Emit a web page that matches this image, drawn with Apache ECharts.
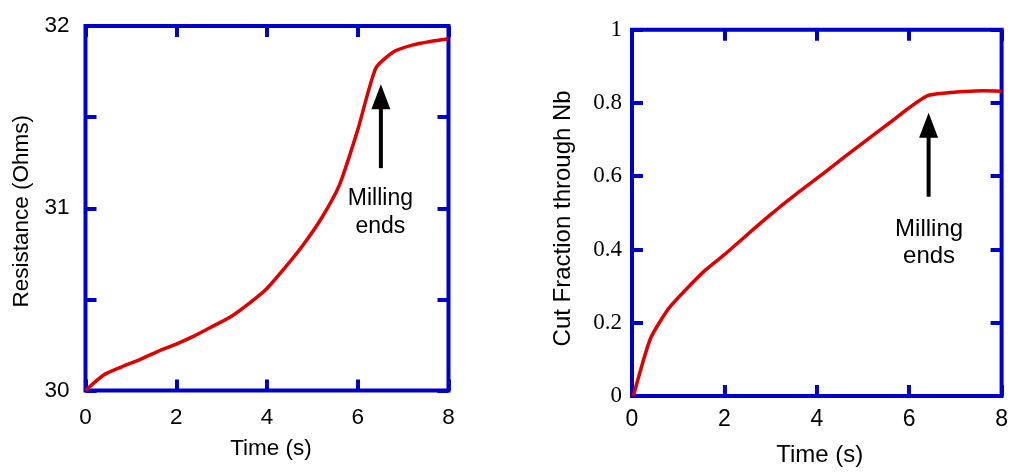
<!DOCTYPE html>
<html>
<head>
<meta charset="utf-8">
<script src="https://cdn.jsdelivr.net/npm/echarts@6/dist/echarts.min.js"></script>
<style>
html,body{margin:0;padding:0;background:#fff;}
#chart{width:1011px;height:472px;}
</style>
</head>
<body>
<div id="chart"></div>
<script>
// ---- data ----
const leftTime = [0, 0.4, 0.8, 1.2, 1.6, 2.0, 2.4, 2.8, 3.2, 3.6, 4.0, 4.4, 4.8, 5.2, 5.6, 6.0, 6.4, 6.8, 7.2, 7.6, 8.0];
const leftResistance = [30.0, 30.085, 30.13, 30.17, 30.215, 30.255, 30.30, 30.352, 30.405, 30.477, 30.56, 30.675, 30.80, 30.945, 31.13, 31.43, 31.77, 31.86, 31.895, 31.915, 31.93];
const rightTime = [0.03, 0.4, 0.8, 1.2, 1.6, 2.0, 2.4, 2.8, 3.2, 3.6, 4.0, 4.4, 4.8, 5.2, 5.6, 6.0, 6.4, 6.8, 7.2, 7.6, 8.0];
const rightCut = [0.0, 0.157, 0.24, 0.295, 0.345, 0.386, 0.43, 0.474, 0.516, 0.556, 0.594, 0.633, 0.672, 0.71, 0.748, 0.787, 0.82, 0.827, 0.831, 0.833, 0.832];
const xTicks = [0, 2, 4, 6, 8];
const leftYTickLabels = [30, 31, 32];
const rightYTickLabels = [0, 0.2, 0.4, 0.6, 0.8, 1];
// annotation arrows: [time, tip value, tail value]
const arrowLeft = [6.51, 31.68, 31.22];
const arrowRight = [6.42, 0.773, 0.544];
// annotation text anchors: [time, value]
const noteLeft = [6.50, 30.974];
const noteRight = [6.43, 0.419];
const noteLines = ['Milling', 'ends'];
const xName = 'Time (s)';
const leftYName = 'Resistance (Ohms)';
const rightYName = 'Cut Fraction through Nb';

// ---- styles ----
const BLUE = '#0000cc';
const RED = '#e00000';
const SANS = '"Liberation Sans", Arial, sans-serif';
const SERIF = '"Liberation Serif", "Times New Roman", serif';

const tickStyle = {inside: true, length: 11, lineStyle: {color: BLUE, width: 4}};
const noLine = {show: false, onZero: false};

function xAxisPair(gi, margin, nameGap, namePad, labelSize, nameSize) {
  return [
    {
      gridIndex: gi, type: 'value', min: xTicks[0], max: xTicks[xTicks.length - 1], interval: 2,
      position: 'bottom',
      axisLine: noLine, axisTick: tickStyle, splitLine: {show: false},
      axisLabel: {margin: margin, fontSize: labelSize, color: '#000', fontFamily: SANS,
        formatter: v => xTicks.indexOf(v) >= 0 ? String(v) : ''},
      name: xName, nameLocation: 'middle', nameGap: nameGap,
      nameTextStyle: {fontSize: nameSize, color: '#000', fontFamily: SANS, padding: namePad}
    },
    {
      gridIndex: gi, type: 'value', min: xTicks[0], max: xTicks[xTicks.length - 1], interval: 2,
      position: 'top',
      axisLine: noLine, axisTick: tickStyle, splitLine: {show: false},
      axisLabel: {show: false}
    }
  ];
}

function arrowRender(params, api) {
  const tip = api.coord([api.value(0), api.value(1)]);
  const tail = api.coord([api.value(0), api.value(2)]);
  const headH = 25, headW = 19;
  return {
    type: 'group',
    children: [
      {type: 'line', shape: {x1: tail[0], y1: tail[1], x2: tip[0], y2: tip[1] + headH - 2},
        style: {stroke: '#000', lineWidth: 4}},
      {type: 'polygon', shape: {points: [[tip[0], tip[1]], [tip[0] - headW / 2, tip[1] + headH], [tip[0] + headW / 2, tip[1] + headH]]},
        style: {fill: '#000'}}
    ]
  };
}

function makeNoteRender(fontSize, lineHeight) {
  return function (params, api) {
    const p = api.coord([api.value(0), api.value(1)]);
    return {
      type: 'text',
      x: p[0], y: p[1],
      style: {text: noteLines.join('\n'), align: 'center', verticalAlign: 'middle',
        fontSize: fontSize, fontFamily: SANS, fill: '#000', lineHeight: lineHeight}
    };
  };
}

const chart = echarts.init(document.getElementById('chart'), null, {renderer: 'canvas'});
chart.setOption({
  animation: false,
  backgroundColor: '#fff',
  grid: [
    {left: 85.5, right: 562.5, top: 26, bottom: 81.5, show: true, borderColor: BLUE, borderWidth: 4, containLabel: false},
    {left: 632, right: 9.3, top: 29.7, bottom: 73.7, show: true, borderColor: BLUE, borderWidth: 4, containLabel: false}
  ],
  xAxis: [].concat(xAxisPair(0, 16, 47, [0, 0, 0, 8], 22.5, 22.5), xAxisPair(1, 12, 47, [0, 0, 0, 6], 23, 24)),
  yAxis: [
    {
      gridIndex: 0, type: 'value', min: 30, max: 32, interval: 0.5, position: 'left',
      axisLine: noLine, axisTick: tickStyle, splitLine: {show: false},
      axisLabel: {margin: 16, fontSize: 22.5, color: '#000', fontFamily: SANS,
        formatter: v => leftYTickLabels.indexOf(v) >= 0 ? String(v) : ''},
      name: leftYName, nameLocation: 'middle', nameGap: 52, nameRotate: 90,
      nameTextStyle: {fontSize: 22.5, color: '#000', fontFamily: SANS, padding: [0, 6, 0, 0]}
    },
    {
      gridIndex: 0, type: 'value', min: 30, max: 32, interval: 0.5, position: 'right',
      axisLine: noLine, axisTick: tickStyle, splitLine: {show: false}, axisLabel: {show: false}
    },
    {
      gridIndex: 1, type: 'value', min: 0, max: 1, interval: 0.2, position: 'left',
      axisLine: noLine, axisTick: tickStyle, splitLine: {show: false},
      axisLabel: {margin: 10, fontSize: 23, color: '#000', fontFamily: SERIF,
        formatter: v => { const r = Math.round(v * 10) / 10; return rightYTickLabels.indexOf(r) >= 0 ? String(r) : ''; }},
      name: rightYName, nameLocation: 'middle', nameGap: 57, nameRotate: 90,
      nameTextStyle: {fontSize: 24, color: '#000', fontFamily: SANS, padding: [0, 11, 0, 0]}
    },
    {
      gridIndex: 1, type: 'value', min: 0, max: 1, interval: 0.2, position: 'right',
      axisLine: noLine, axisTick: tickStyle, splitLine: {show: false}, axisLabel: {show: false}
    }
  ],
  series: [
    {
      type: 'line', xAxisIndex: 0, yAxisIndex: 0, showSymbol: false, smooth: 0.2,
      data: leftTime.map((t, i) => [t, leftResistance[i]]),
      lineStyle: {color: RED, width: 3.5}, z: 3
    },
    {
      type: 'line', xAxisIndex: 2, yAxisIndex: 2, showSymbol: false, smooth: 0.2,
      data: rightTime.map((t, i) => [t, rightCut[i]]),
      lineStyle: {color: RED, width: 3.5}, z: 3
    },
    {type: 'custom', xAxisIndex: 0, yAxisIndex: 0, renderItem: arrowRender, data: [arrowLeft], silent: true, z: 4},
    {type: 'custom', xAxisIndex: 2, yAxisIndex: 2, renderItem: arrowRender, data: [arrowRight], silent: true, z: 4},
    {type: 'custom', xAxisIndex: 0, yAxisIndex: 0, renderItem: makeNoteRender(23, 28), data: [noteLeft], silent: true, z: 4},
    {type: 'custom', xAxisIndex: 2, yAxisIndex: 2, renderItem: makeNoteRender(24, 27), data: [noteRight], silent: true, z: 4}
  ]
});
</script>
</body>
</html>
